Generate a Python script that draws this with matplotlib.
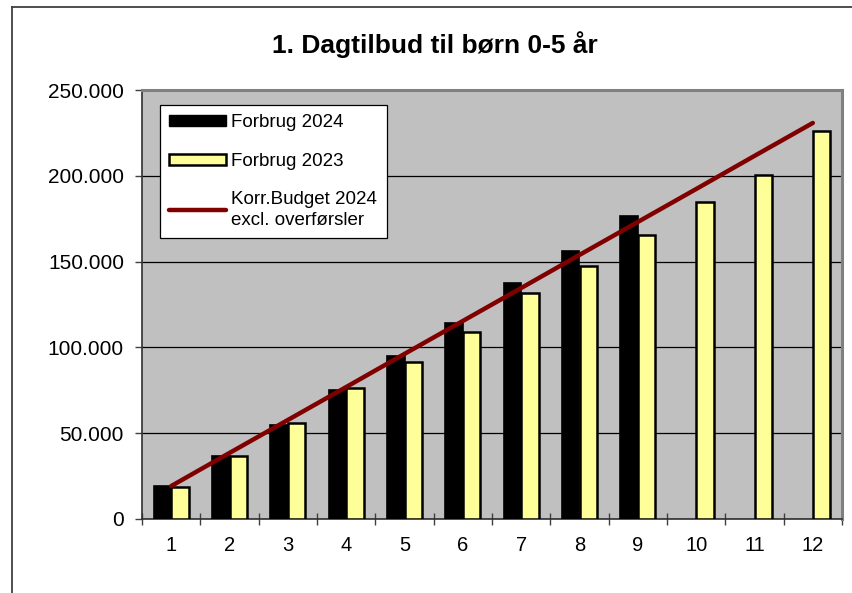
import matplotlib
matplotlib.use("Agg")
import matplotlib.pyplot as plt
from matplotlib.lines import Line2D
from matplotlib.patches import Patch
from matplotlib.ticker import FuncFormatter, MultipleLocator, FixedLocator

plt.rcParams['font.family'] = ['Liberation Sans', 'DejaVu Sans']

months = [1, 2, 3, 4, 5, 6, 7, 8, 9, 10, 11, 12]
forbrug_2024 = [19500, 37000, 54800, 75000, 95000, 114500, 137500, 156000, 176500]
forbrug_2023 = [18600, 37000, 56000, 76300, 91500, 109000, 131500, 147400, 165500, 184700, 200500, 226100]
budget_2024 = [19200, 38500, 57700, 76900, 96200, 115400, 134600, 153900, 173100, 192300, 211600, 230800]

title = "1. Dagtilbud til børn 0-5 år"
label_2024 = "Forbrug 2024"
label_2023 = "Forbrug 2023"
label_budget = "Korr.Budget 2024\nexcl. overførsler"

fig = plt.figure(figsize=(8.52, 5.93), dpi=100)
ax = fig.add_axes([142/852, 1-519/593, 700/852, 429/593])
ax.set_facecolor('#C0C0C0')

w = 0.30
ax.bar([m - w/2 for m in months[:len(forbrug_2024)]], forbrug_2024, width=w,
       color='black', edgecolor='black', linewidth=1.2, zorder=3)
ax.bar([m + w/2 for m in months], forbrug_2023, width=w,
       color='#FFFF99', edgecolor='black', linewidth=1.8, zorder=3)
ax.plot(months, budget_2024, color='#800000', linewidth=3.2, solid_capstyle='round', zorder=4)

ax.set_xlim(0.5, 12.5)
ax.set_ylim(0, 250000)
ax.yaxis.set_major_locator(MultipleLocator(50000))
ax.yaxis.set_major_formatter(FuncFormatter(lambda v, p: f"{int(v):,}".replace(",", ".")))
ax.grid(axis='y', color='black', linewidth=0.9, zorder=1)
ax.set_axisbelow(True)

ax.set_xticks(months)
ax.set_xticklabels([str(m) for m in months])
ax.xaxis.set_minor_locator(FixedLocator([m + 0.5 for m in [0] + months]))
ax.tick_params(axis='x', which='major', length=0, pad=12, labelsize=14.5)
ax.tick_params(axis='x', which='minor', length=8.5, width=1, color='#404040', direction='inout')
ax.tick_params(axis='y', length=5, width=1, color='#404040', direction='out', labelsize=15, pad=8)

for s in ['left', 'bottom']:
    ax.spines[s].set_color('#303030')
    ax.spines[s].set_linewidth(1.2)
for s in ['top', 'right']:
    ax.spines[s].set_color('#808080')
    ax.spines[s].set_linewidth(2.2)

fig.text(435/852, 1-45/593, title, ha='center', va='center', fontsize=19, fontweight='bold')

handles = [Patch(facecolor='black', edgecolor='black'),
           Patch(facecolor='#FFFF99', edgecolor='black', linewidth=1.8),
           Line2D([0], [0], color='#800000', linewidth=3.2, solid_capstyle='round')]
leg = ax.legend(handles, [label_2024, label_2023, label_budget], loc='upper left',
                bbox_to_anchor=(18/700, 1-15/429), fontsize=13.5, frameon=True,
                fancybox=False, edgecolor='black', framealpha=1, handlelength=3.0,
                handleheight=0.55, labelspacing=1.15, handletextpad=0.3,
                borderpad=0.5, borderaxespad=0)
for t in leg.get_texts():
    t.set_linespacing(1.25)
leg.get_frame().set_linewidth(0.9)
leg.set_zorder(6)

# outer frame lines (top and left)
fig.add_artist(Line2D([12/852, 12/852], [0, 1-7/593], transform=fig.transFigure, color='#404040', linewidth=1.3))
fig.add_artist(Line2D([12/852, 1], [1-7/593, 1-7/593], transform=fig.transFigure, color='#404040', linewidth=1.3))

fig.savefig('out.png', dpi=100)
